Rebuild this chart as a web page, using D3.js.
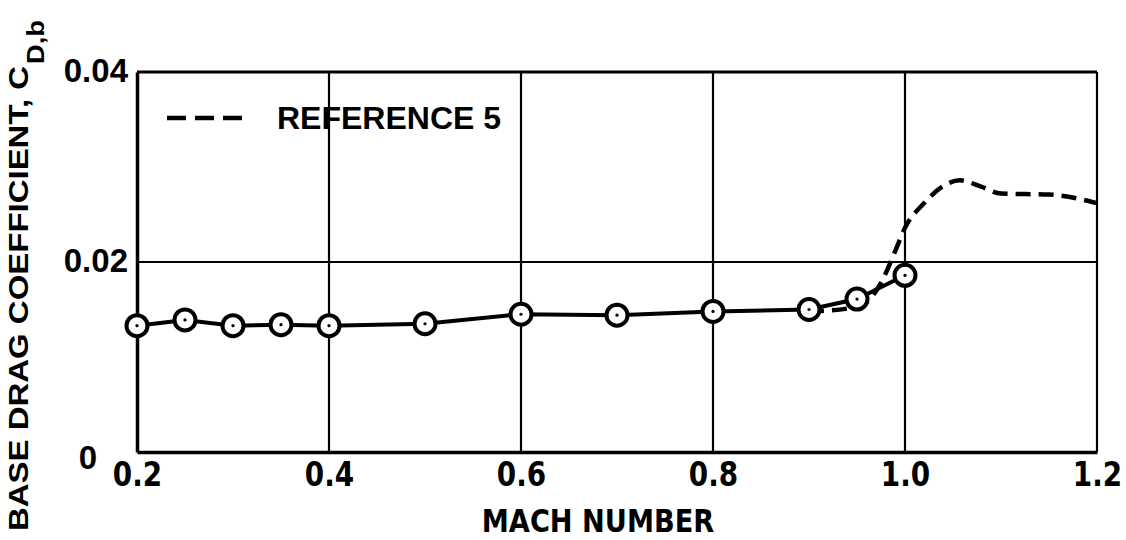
<!DOCTYPE html>
<html>
<head>
<meta charset="utf-8">
<script src="https://cdn.jsdelivr.net/npm/d3@7"></script>
<style>
  body { margin: 0; background: #fff; }
  svg { display: block; }
</style>
</head>
<body>
<svg id="chart" width="1126" height="540"></svg>
<script>
// measured data (Mach number vs base drag coefficient)
const machPts = [0.2, 0.25, 0.3, 0.35, 0.4, 0.5, 0.6, 0.7, 0.8, 0.9, 0.95, 1.0];
const cdbPts = [0.0133, 0.0139, 0.0133, 0.0134, 0.0133, 0.0135, 0.0145, 0.0144, 0.0148, 0.0150, 0.0161, 0.0186];

// reference 5 curve (dashed)
const machRef = [0.9, 0.94, 0.96, 0.975, 0.99, 1.0, 1.02, 1.04, 1.057, 1.08, 1.1, 1.15, 1.2];
const cdbRef = [0.0148, 0.0151, 0.0158, 0.0178, 0.0212, 0.0236, 0.0262, 0.0280, 0.0286, 0.0279, 0.0272, 0.0271, 0.0262];

const xTicks = [0.2, 0.4, 0.6, 0.8, 1.0, 1.2];
const xTickLabels = ["0.2", "0.4", "0.6", "0.8", "1.0", "1.2"];
const yTicks = [0, 0.02, 0.04];
const yTickLabels = ["0", "0.02", "0.04"];
const legendLabel = "REFERENCE 5";

var svg = d3.select("#chart"),
   margin = {top: 72, right: 29, bottom: 88, left: 137},
   width = +svg.attr("width"),
   height = +svg.attr("height");

const narrow = "'DejaVu Sans', sans-serif";
const wide = "'Liberation Sans', Arial, sans-serif";

const xScale = d3.scaleLinear()
   .domain([0.2, 1.2])
   .range([margin.left, width - margin.right]);

const yScale = d3.scaleLinear()
   .domain([0, 0.04])
   .range([height - margin.bottom, margin.top]);

// grid lines
svg.append("g")
   .selectAll("line")
   .data(xTicks.slice(1))
   .join("line")
   .attr("x1", d => xScale(d)).attr("x2", d => xScale(d))
   .attr("y1", yScale(0)).attr("y2", yScale(0.04))
   .attr("stroke", "#000").attr("stroke-width", 2.2);

svg.append("g")
   .selectAll("line")
   .data(yTicks.slice(1))
   .join("line")
   .attr("x1", xScale(0.2)).attr("x2", xScale(1.2))
   .attr("y1", d => yScale(d)).attr("y2", d => yScale(d))
   .attr("stroke", "#000").attr("stroke-width", 2.2);

// X axis (labels squeezed horizontally to look condensed)
const xAxis = svg.append("g")
   .attr("transform", `translate(0,${yScale(0)})`)
   .call(d3.axisBottom(xScale).tickValues(xTicks).tickSize(0)
      .tickFormat((d, i) => xTickLabels[i]));
xAxis.select(".domain").attr("stroke-width", 3.5);
xAxis.selectAll("text")
   .attr("font-family", narrow)
   .attr("font-weight", "bold")
   .attr("font-size", "34px")
   .attr("fill", "#000")
   .attr("y", 0)
   .attr("dy", "1.0em")
   .attr("transform", "scale(0.82,1)");

// Y axis
const yAxis = svg.append("g")
   .attr("transform", `translate(${xScale(0.2)},0)`)
   .call(d3.axisLeft(yScale).tickValues(yTicks).tickSize(0)
      .tickFormat((d, i) => yTickLabels[i]));
yAxis.select(".domain").attr("stroke-width", 3.5);
yAxis.selectAll("text")
   .attr("font-family", wide)
   .attr("font-weight", "bold")
   .attr("font-size", "33px")
   .attr("fill", "#000")
   .attr("x", d => d === 0 ? -40 : -9)
   .attr("dy", d => d === 0 ? "0.5em" : "0.3em");

// frame top side
svg.append("line")
   .attr("x1", xScale(0.2)).attr("x2", xScale(1.2))
   .attr("y1", yScale(0.04)).attr("y2", yScale(0.04))
   .attr("stroke", "#000").attr("stroke-width", 3);

// reference 5 dashed curve
const refLine = d3.line()
   .x((d, i) => xScale(machRef[i]))
   .y(d => yScale(d))
   .curve(d3.curveMonotoneX);
svg.append("path")
   .attr("d", refLine(cdbRef))
   .attr("fill", "none")
   .attr("stroke", "#000")
   .attr("stroke-width", 4.5)
   .attr("stroke-dasharray", "15,8");

// measured line
const ptLine = d3.line()
   .x((d, i) => xScale(machPts[i]))
   .y(d => yScale(d));
svg.append("path")
   .attr("d", ptLine(cdbPts))
   .attr("fill", "none")
   .attr("stroke", "#000")
   .attr("stroke-width", 4);

// circles
const pts = svg.append("g")
   .selectAll("g")
   .data(cdbPts)
   .join("g")
   .attr("transform", (d, i) => `translate(${xScale(machPts[i])},${yScale(d)})`);
pts.append("circle")
   .attr("r", 10.5)
   .attr("fill", "#fff")
   .attr("stroke", "#000")
   .attr("stroke-width", 4);
pts.append("circle")
   .attr("r", 1.6)
   .attr("fill", "#000");

// legend
svg.append("line")
   .attr("x1", 167).attr("x2", 250)
   .attr("y1", 118).attr("y2", 118)
   .attr("stroke", "#000")
   .attr("stroke-width", 4.5)
   .attr("stroke-dasharray", "19,9");
svg.append("text")
   .attr("x", 277).attr("y", 129)
   .attr("font-family", wide)
   .attr("font-weight", "bold")
   .attr("font-size", "32px")
   .text(legendLabel);

// axis titles
svg.append("g")
   .attr("transform", "translate(598,532) scale(0.85,1)")
   .append("text")
   .attr("text-anchor", "middle")
   .attr("font-family", narrow)
   .attr("font-weight", "bold")
   .attr("font-size", "32px")
   .text("MACH NUMBER");

svg.append("text")
   .attr("transform", "translate(28,531) rotate(-90)")
   .attr("font-family", wide)
   .attr("font-weight", "bold")
   .attr("font-size", "28px")
   .attr("textLength", 465)
   .attr("lengthAdjust", "spacingAndGlyphs")
   .text("BASE DRAG COEFFICIENT, C");
svg.append("text")
   .attr("transform", "translate(44,64) rotate(-90)")
   .attr("font-family", wide)
   .attr("font-weight", "bold")
   .attr("font-size", "23px")
   .attr("textLength", 44)
   .attr("lengthAdjust", "spacingAndGlyphs")
   .text("D,b");
</script>
</body>
</html>
